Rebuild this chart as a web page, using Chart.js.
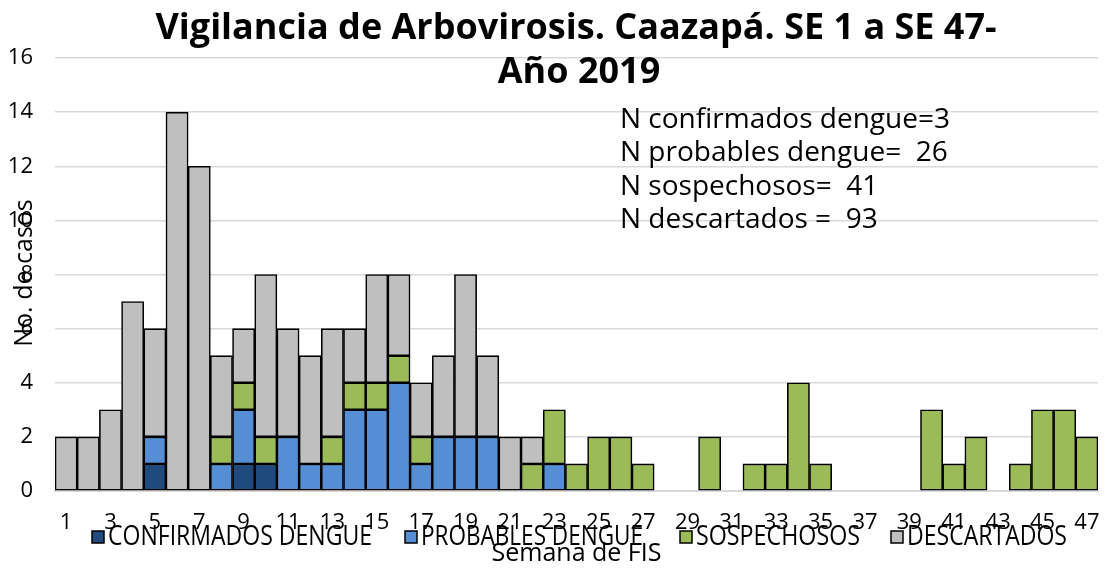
<!DOCTYPE html>
<html>
<head>
<meta charset="utf-8">
<script src="https://cdn.jsdelivr.net/npm/chart.js@4"></script>
<style>
  html, body { margin: 0; padding: 0; background: #fff; }
  #wrap { position: relative; width: 1112px; height: 569px; }
</style>
</head>
<body>
<div id="wrap"><canvas id="chart"></canvas></div>
<script>
// semanas epidemiológicas 1..47
const weeks = [];
for (let i = 1; i <= 47; i++) weeks.push(String(i));

const confirmados = [0,0,0,0,1,0,0,0,1,1, 0,0,0,0,0,0,0,0,0,0, 0,0,0,0,0,0,0,0,0,0, 0,0,0,0,0,0,0,0,0,0, 0,0,0,0,0,0,0];
const probables   = [0,0,0,0,1,0,0,1,2,0, 2,1,1,3,3,4,1,2,2,2, 0,0,1,0,0,0,0,0,0,0, 0,0,0,0,0,0,0,0,0,0, 0,0,0,0,0,0,0];
const sospechosos = [0,0,0,0,0,0,0,1,1,1, 0,0,1,1,1,1,1,0,0,0, 0,1,2,1,2,2,1,0,0,2, 0,1,1,4,1,0,0,0,0,3, 1,2,0,1,3,3,2];
const descartados = [2,2,3,7,4,14,12,3,2,6, 4,4,4,2,4,3,2,3,6,3, 2,1,0,0,0,0,0,0,0,0, 0,0,0,0,0,0,0,0,0,0, 0,0,0,0,0,0,0];

const titleLines = ["Vigilancia de Arbovirosis. Caazapá. SE 1 a SE 47-", "Año 2019"];
const notes = ["N confirmados dengue=3", "N probables dengue=  26", "N sospechosos=  41", "N descartados =  93"];

const FONT = "'Open Sans', 'Noto Sans', sans-serif";

// texto estirado/comprimido a un ancho dado (la leyenda de Excel sale angosta)
function fitText(ctx, txt, x, y, w) {
  const m = ctx.measureText(txt).width;
  ctx.save();
  ctx.translate(x, y);
  ctx.scale(w / m, 1);
  ctx.fillText(txt, 0, 0);
  ctx.restore();
}

// texto que Excel superpone al área del gráfico
const overlayText = {
  id: "overlayText",
  afterDraw(chart) {
    const ctx = chart.ctx;
    ctx.save();
    ctx.fillStyle = "#000";
    ctx.textBaseline = "alphabetic";

    // título
    ctx.textAlign = "center";
    ctx.font = "bold 36px " + FONT;
    ctx.fillText(titleLines[0], 576, 39);
    ctx.fillText(titleLines[1], 579, 83);

    // notas
    ctx.textAlign = "left";
    ctx.font = "28px " + FONT;
    notes.forEach((t, i) => ctx.fillText(t, 620, 128 + i * 33.4));

    // título eje y
    ctx.save();
    ctx.translate(32, 273);
    ctx.rotate(-Math.PI / 2);
    ctx.textAlign = "center";
    ctx.font = "25px " + FONT;
    ctx.fillText("No. de casos", 0, 0);
    ctx.restore();

    // leyenda
    const boxX = [92, 405, 680, 891];
    const textW = [264, 222, 164, 160];
    ctx.font = "27px " + FONT;
    chart.data.datasets.forEach((ds, i) => {
      ctx.fillStyle = ds.backgroundColor;
      ctx.fillRect(boxX[i], 531, 12, 12);
      ctx.strokeStyle = "#000";
      ctx.lineWidth = 1.5;
      ctx.strokeRect(boxX[i], 531, 12, 12);
      ctx.fillStyle = "#000";
      fitText(ctx, ds.label, boxX[i] + 16, 545, textW[i]);
    });
    ctx.restore();
  }
};

new Chart(document.getElementById("chart"), {
  type: "bar",
  data: {
    labels: weeks,
    datasets: [
      { label: "CONFIRMADOS DENGUE", data: confirmados, backgroundColor: "#1f4a7e" },
      { label: "PROBABLES DENGUE", data: probables, backgroundColor: "#558ed5" },
      { label: "SOSPECHOSOS", data: sospechosos, backgroundColor: "#9bbb59" },
      { label: "DESCARTADOS", data: descartados, backgroundColor: "#bfbfbf" },
    ].map(d => Object.assign(d, {
      borderColor: "#000",
      borderWidth: 1.6,
      borderSkipped: false,
      barPercentage: 1,
      categoryPercentage: 1,
    })),
  },
  options: {
    responsive: true,
    maintainAspectRatio: false,
    animation: false,
    layout: { padding: { top: 58, right: 14, left: 0, bottom: 0 } },
    plugins: {
      legend: { display: false },
      title: { display: false },
      tooltip: { enabled: false },
    },
    scales: {
      x: {
        stacked: true,
        // marcas invisibles: sólo separan las etiquetas del eje
        grid: { display: false, drawTicks: true, tickLength: 19 },
        border: { display: true, color: "#d9d9d9", width: 2 },
        ticks: {
          autoSkip: false,
          maxRotation: 0,
          padding: 0,
          color: "#000",
          font: { family: FONT, size: 22 },
          callback: function (v, i) { return i % 2 === 0 ? this.getLabelForValue(v) : ""; },
        },
        title: {
          display: true,
          text: "Semana de FIS",
          color: "#000",
          font: { family: FONT, size: 25 },
          padding: { top: 0, bottom: 0 },
        },
        afterFit(scale) { scale.height = 78; },
      },
      y: {
        stacked: true,
        min: 0,
        max: 16,
        grid: { color: "#d9d9d9", lineWidth: 1.5, drawTicks: false },
        border: { display: false },
        ticks: {
          stepSize: 2,
          padding: 22,
          color: "#000",
          font: { family: FONT, size: 22 },
        },
        afterFit(scale) { scale.width = 55; },
      },
    },
  },
  plugins: [overlayText],
});
</script>
</body>
</html>
